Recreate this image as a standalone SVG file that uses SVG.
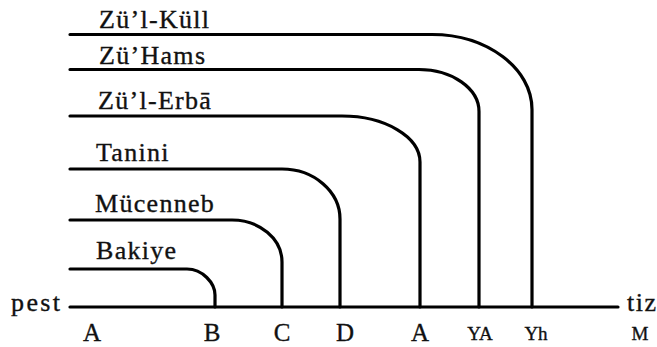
<svg xmlns="http://www.w3.org/2000/svg" width="657" height="347" viewBox="0 0 657 347">
<style>
.ln{fill:none;stroke:#000;stroke-width:3.2;stroke-linecap:round}
text{font-family:"Liberation Serif","Times New Roman",serif;fill:#111;stroke:#111;stroke-width:0.35}
.t{font-size:26px;letter-spacing:1.3px}
.b{font-size:25px;text-anchor:middle}
.s{font-size:19px;text-anchor:middle}
</style>
<rect width="657" height="347" fill="#fff"/>
<g id="connectors">
<path class="ln" d="M70,307 H618"/>
<path class="ln" d="M70,269 H187 C202.4,269 215,283 215,295 V307"/>
<path class="ln" d="M70,220 H232 C259.5,220 282,238.9 282,262 V307"/>
<path class="ln" d="M70,169 H282 C313.9,169 340,191.5 340,219 V307"/>
<path class="ln" d="M70,116 H342 C384.9,116 420,136.7 420,162 V307"/>
<path class="ln" d="M70,69.5 H419 C452,69.5 479,88.4 479,111.5 V307"/>
<path class="ln" d="M70,34.5 H432 C487,34.5 532,68.3 532,109.5 V307"/>
</g>
<g id="n-kull"><text class="t" x="99" y="28">Zü’l-Küll</text></g>
<g id="n-hams"><text class="t" x="99" y="64">Zü’Hams</text></g>
<g id="n-erba"><text class="t" x="98" y="109">Zü’l-Erbā</text></g>
<g id="n-tanini"><text class="t" x="96" y="161">Tanini</text></g>
<g id="n-mucenneb"><text class="t" x="95" y="212">Mücenneb</text></g>
<g id="n-bakiye"><text class="t" x="96" y="259">Bakiye</text></g>
<g id="n-pest"><text class="t" x="11" y="311" style="letter-spacing:2.4px">pest</text></g>
<g id="n-tiz"><text class="t" x="627" y="311" style="letter-spacing:1.5px">tiz</text></g>
<g id="labels">
<text class="b" x="92" y="341">A</text>
<text class="b" x="212" y="341">B</text>
<text class="b" x="282" y="341">C</text>
<text class="b" x="345" y="341">D</text>
<text class="b" x="420" y="341">A</text>
<text class="s" x="480" y="340">YA</text>
<text class="s" x="536" y="340">Yh</text>
<text class="s" x="640" y="340">M</text>
</g>
</svg>
